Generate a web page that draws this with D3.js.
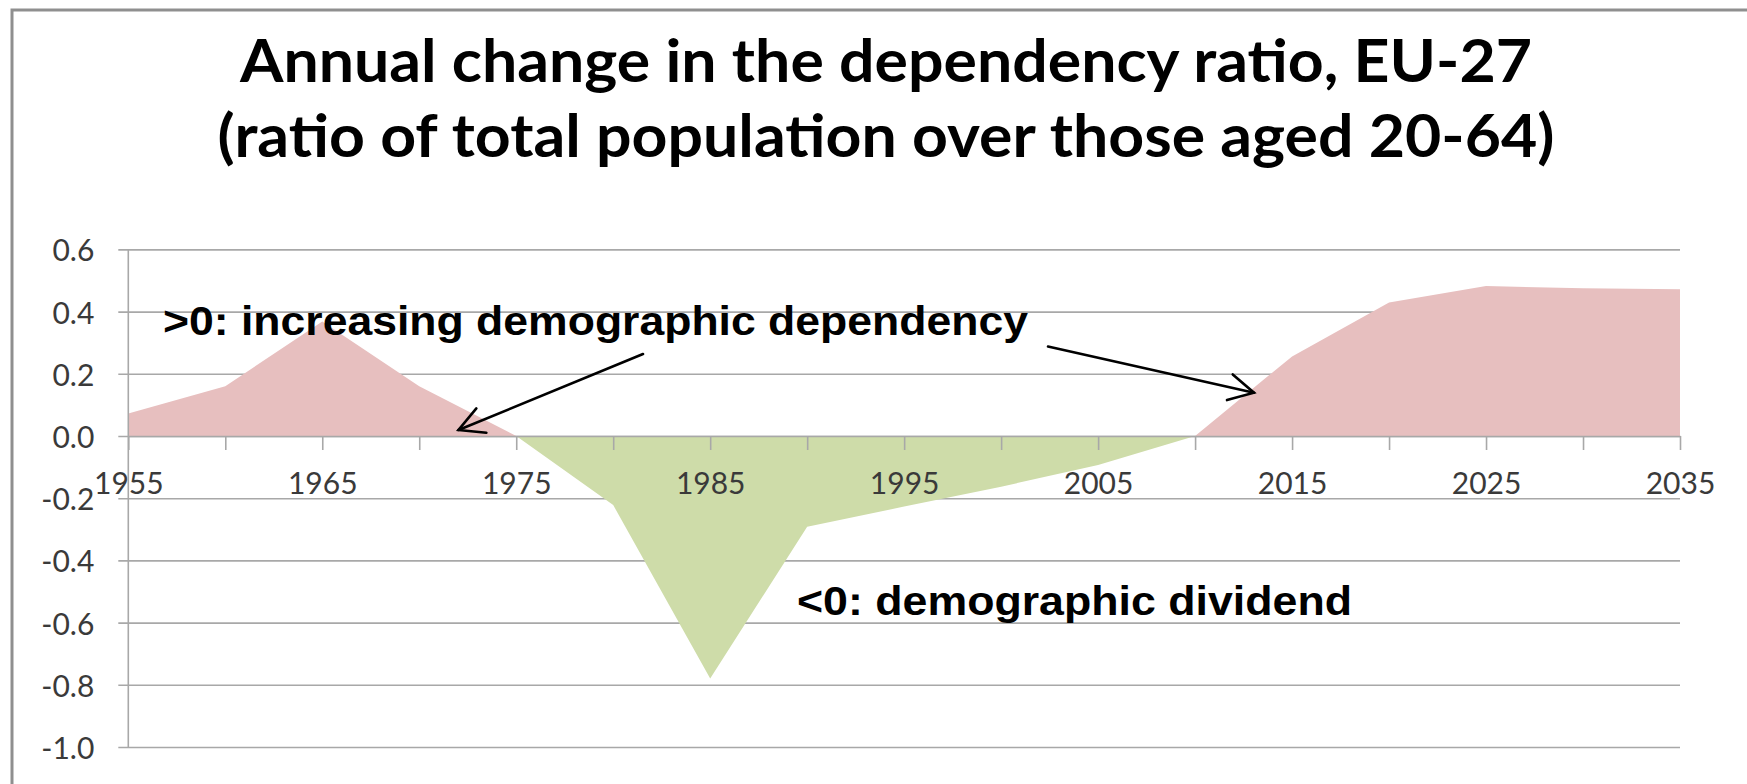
<!DOCTYPE html>
<html>
<head>
<meta charset="utf-8">
<script src="https://cdn.jsdelivr.net/npm/d3@7"></script>
<style>
  html, body { margin: 0; padding: 0; background: #ffffff; }
  svg { display: block; }
</style>
</head>
<body>
<svg id="chart" width="1747" height="784"></svg>
<script>
// ---- data ----
const years = [1955, 1960, 1965, 1970, 1975, 1980, 1985, 1990, 1995, 2000, 2005, 2010, 2015, 2020, 2025, 2030, 2035];
const changeValues = [0.072, 0.16, 0.368, 0.16, 0.0, -0.222, -0.78, -0.292, -0.227, -0.163, -0.093, 0.0, 0.256, 0.429, 0.482, 0.475, 0.472];
const yTickValues = [0.6, 0.4, 0.2, 0.0, -0.2, -0.4, -0.6, -0.8, -1.0];
const xTickYears = [1955, 1960, 1965, 1970, 1975, 1980, 1985, 1990, 1995, 2000, 2005, 2010, 2015, 2020, 2025, 2030, 2035];
const xLabelYears = [1955, 1965, 1975, 1985, 1995, 2005, 2015, 2025, 2035];
const titleLines = ["Annual change in the dependency ratio, EU-27", "(ratio of total population over those aged 20-64)"];
const positiveLabel = ">0: increasing demographic dependency";
const negativeLabel = "<0: demographic dividend";

(function () {
// ---- layout ----
const svg = d3.select("#chart");
const plotLeft = 128.3, plotRight = 1680, plotTop = 249.4, plotBottom = 747;
const x = d3.scaleLinear().domain([1955, 2035]).range([plotLeft, plotRight]);
const y = d3.scaleLinear().domain([-1.0, 0.6]).range([plotBottom, plotTop]);

svg.append("rect").attr("width", 1747).attr("height", 784).attr("fill", "#fff");
// outer frame
svg.append("rect").attr("x", 12).attr("y", 10).attr("width", 1800).attr("height", 900)
  .attr("fill", "none").attr("stroke", "#8f8f8f").attr("stroke-width", 3);

// title
svg.append("g").selectAll("text").data(titleLines).join("text")
  .attr("x", 886).attr("y", (d, i) => 82 + i * 75)
  .attr("text-anchor", "middle")
  .attr("font-family", "Lato, 'Open Sans', sans-serif")
  .attr("font-weight", 700).attr("font-size", 60)
  .attr("textLength", (d, i) => i === 0 ? 1292 : 1337)
  .attr("lengthAdjust", "spacingAndGlyphs")
  .attr("fill", "#000")
  .text(d => d);

// y gridlines + labels
const yAxis = d3.axisLeft(y).tickValues(yTickValues).tickFormat(d3.format(".1f"))
  .tickSize(-(plotRight - plotLeft)).tickPadding(34);
const gy = svg.append("g").attr("transform", `translate(${plotLeft},0)`).call(yAxis);
gy.select(".domain").remove();
gy.selectAll(".tick line").attr("x1", -10).attr("stroke", "#a8a8a8").attr("stroke-width", 1.6);
gy.selectAll(".tick text")
  .attr("font-family", "Lato, 'Open Sans', sans-serif").attr("font-size", 30)
  .attr("fill", "#3a3a3a").attr("dy", null).attr("y", 11.5)
  .text(d => d3.format(".1f")(d).replace("−", "-"));

// areas
const pts = years.map((yr, i) => ({ year: yr, v: changeValues[i] }));
const posArea = d3.area().x(d => x(d.year)).y0(y(0)).y1(d => y(Math.max(d.v, 0)));
const negArea = d3.area().x(d => x(d.year)).y0(y(0)).y1(d => y(Math.min(d.v, 0)));
svg.append("path").datum(pts).attr("d", posArea).attr("fill", "#e7bfbf");
svg.append("path").datum(pts).attr("d", negArea).attr("fill", "#cedca9");

// y axis line
svg.append("line").attr("x1", plotLeft).attr("x2", plotLeft).attr("y1", plotTop).attr("y2", plotBottom)
  .attr("stroke", "#a8a8a8").attr("stroke-width", 1.6);

// x axis at zero
const xAxis = d3.axisBottom(x).tickValues(xTickYears)
  .tickFormat(d => xLabelYears.includes(d) ? String(d) : "")
  .tickSize(14).tickSizeOuter(0);
const gx = svg.append("g").attr("transform", `translate(0,${y(0)})`).call(xAxis);
gx.select(".domain").attr("stroke", "#a8a8a8").attr("stroke-width", 1.6);
gx.selectAll(".tick line").attr("stroke", "#a8a8a8").attr("stroke-width", 1.6);
gx.selectAll(".tick text")
  .attr("font-family", "Lato, 'Open Sans', sans-serif").attr("font-size", 30)
  .attr("fill", "#3a3a3a").attr("y", 37);

// annotations
const annFont = "'Liberation Sans', Arial, sans-serif";
svg.append("text").attr("x", 163).attr("y", 335)
  .attr("font-family", annFont).attr("font-weight", 700).attr("font-size", 41)
  .attr("textLength", 865).attr("lengthAdjust", "spacingAndGlyphs")
  .attr("fill", "#000").text(positiveLabel);
svg.append("text").attr("x", 797).attr("y", 615)
  .attr("font-family", annFont).attr("font-weight", 700).attr("font-size", 41)
  .attr("textLength", 555).attr("lengthAdjust", "spacingAndGlyphs")
  .attr("fill", "#000").text(negativeLabel);

function arrow(x1, y1, x2, y2) {
  const g = svg.append("g").attr("stroke", "#000").attr("stroke-width", 2.6)
    .attr("fill", "none").attr("stroke-linecap", "round");
  g.append("line").attr("x1", x1).attr("y1", y1).attr("x2", x2).attr("y2", y2);
  const ang = Math.atan2(y1 - y2, x1 - x2);
  const len = 28, spread = 28 * Math.PI / 180;
  const p = [ang - spread, ang + spread].map(a => [x2 + len * Math.cos(a), y2 + len * Math.sin(a)]);
  g.append("path").attr("d", `M${p[0][0]},${p[0][1]} L${x2},${y2} L${p[1][0]},${p[1][1]}`);
}
arrow(643, 354, 458.5, 430);
arrow(1048, 346.5, 1254, 392.7);
})();
</script>
</body>
</html>
